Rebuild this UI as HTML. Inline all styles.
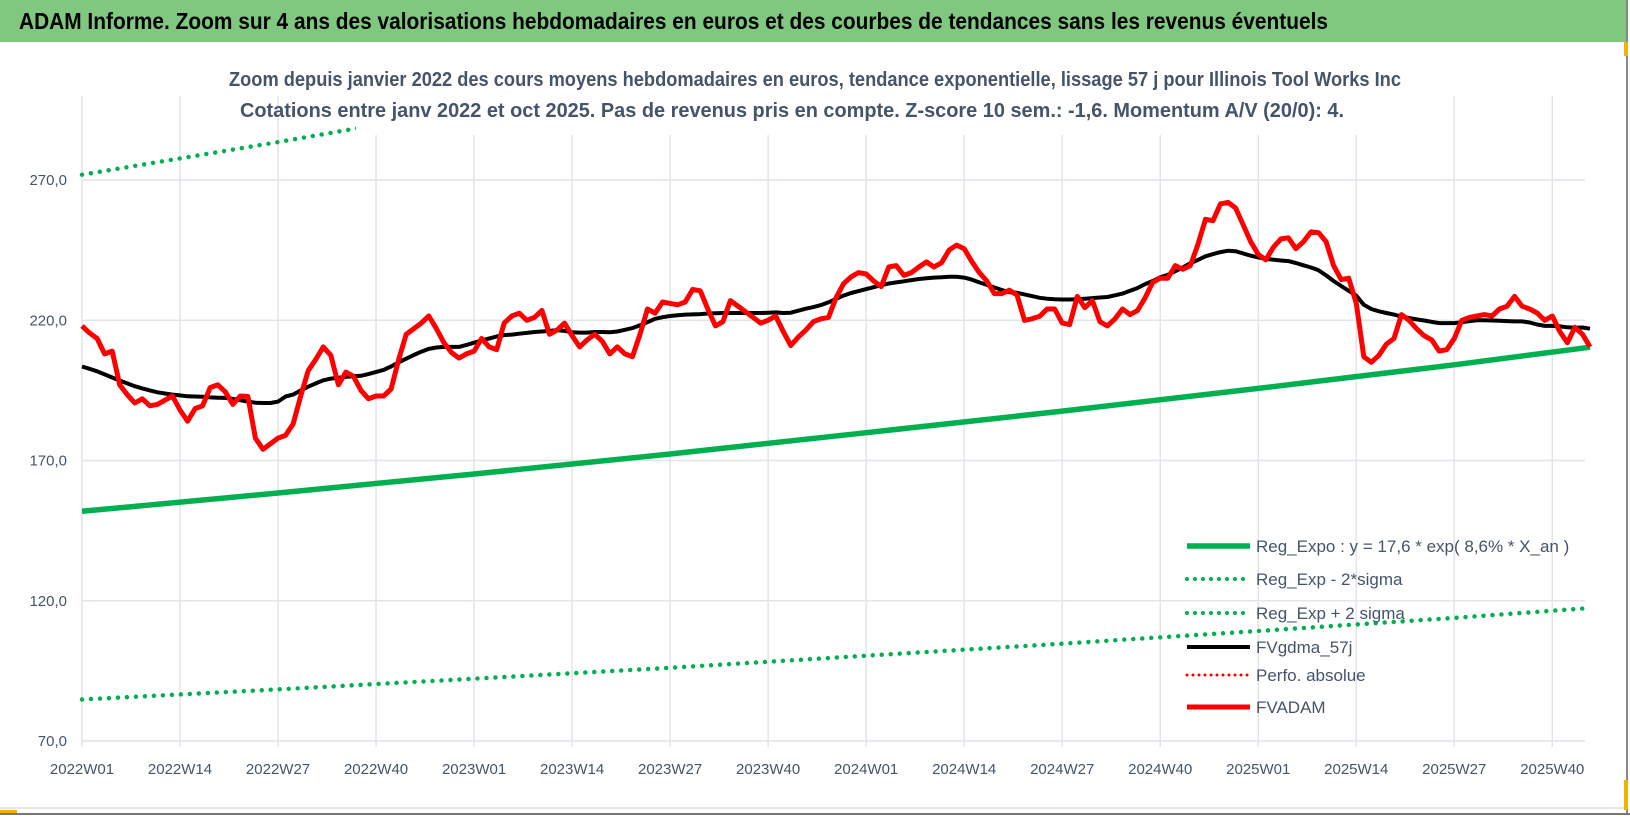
<!DOCTYPE html>
<html><head><meta charset="utf-8"><style>
body{margin:0;background:#fff;width:1630px;height:815px;overflow:hidden;font-family:"Liberation Sans",sans-serif}
</style></head><body>
<svg id="chart" width="1630" height="815" viewBox="0 0 1630 815" xmlns="http://www.w3.org/2000/svg">
<rect x="0" y="0" width="1630" height="815" fill="#fff"/>
<rect x="0" y="0" width="1628" height="42" fill="#80c880"/>
<text x="19" y="29" font-size="23" font-weight="bold" fill="#000" textLength="1309" lengthAdjust="spacingAndGlyphs">ADAM Informe. Zoom sur 4 ans des valorisations hebdomadaires en euros et des courbes de tendances sans les revenus éventuels</text>
<line x1="1627" y1="0" x2="1627" y2="815" stroke="#888" stroke-width="2"/>
<line x1="0" y1="808" x2="1627" y2="808" stroke="#ddd" stroke-width="1.5"/>
<line x1="0" y1="814" x2="1630" y2="814" stroke="#777" stroke-width="2"/>
<rect x="1624" y="42" width="4" height="14" fill="#f0b400"/>
<rect x="1624" y="780" width="4" height="30" fill="#f0b400"/>
<rect x="0" y="810" width="17" height="3" fill="#f0b400"/>
<g id="grid"></g>
<g id="series"></g>
<rect x="356" y="55" width="1050" height="80" fill="#fff"/>
<text x="815" y="86" font-size="20" font-weight="bold" fill="#44546a" text-anchor="middle" textLength="1172" lengthAdjust="spacingAndGlyphs">Zoom depuis janvier 2022 des cours moyens hebdomadaires en euros, tendance exponentielle, lissage 57 j pour Illinois Tool Works Inc</text>
<text x="792" y="117" font-size="20" font-weight="bold" fill="#44546a" text-anchor="middle" textLength="1104" lengthAdjust="spacingAndGlyphs">Cotations entre janv 2022 et oct 2025. Pas de revenus pris en compte. Z-score 10 sem.: -1,6.  Momentum A/V (20/0): 4.</text>
<g id="axes"></g>
<g id="legend"></g>
</svg>
<script>
const yTicks=[70,120,170,220,270];
const yTickLabels=["70,0","120,0","170,0","220,0","270,0"];
const xTickWeeks=[0,13,26,39,52,65,78,91,104,117,130,143,156,169,182,195];
const xTickLabels=["2022W01","2022W14","2022W27","2022W40","2023W01","2023W14","2023W27","2023W40","2024W01","2024W14","2024W27","2024W40","2025W01","2025W14","2025W27","2025W40"];
const redValues=[218,215.5,213.5,208,209,197,193.5,190.5,192,189.5,190,191.5,193,188,184,188.5,189.5,196,197,194.5,190,193,192.8,178,174,176,178,179,183,193,202,206,210.5,207.5,197,201.5,200,195,192,193,193,195.5,206,215,217,219,221.5,217,212,208.5,206.5,208,209,213.5,210.5,209.5,219,221.5,222.5,220,221,223.5,215,216.5,219,214.5,210.5,213,215,212.5,208,210.5,208,207,215,224,222.5,226.5,226,225.5,226.5,231,230.5,224,218,219.5,227,225,223,221,219,220,221.5,216,211,214,216.5,219.5,220.5,221,228,233,235.5,237,236.5,234,232,239,239.5,236,237,239,240.8,239,240.5,245,246.8,245.5,241,237,234,229.5,229.5,230.7,229,220,220.5,221.4,224,224,219,218.5,228.5,224.5,227,219.5,218,220.5,224,222,223.5,228,233.5,235,235,239.5,238.2,239.5,247,256,255.5,261.5,262,260,254,248,243.5,241.5,246,249,249.4,245.5,248,251.5,251.2,248,239.5,234.5,235,226,207,205,207.5,211.5,213.5,222,220,217,214.5,213,209,209.5,213.5,220,221,221.5,222,221.5,224,225,228.5,225,224,222.6,220,221.5,216,212,217.5,215,210.5];
const blackValues=[203.5,202.7,201.8,200.7,199.6,198.5,197.5,196.5,195.7,195,194.3,193.9,193.5,193.2,192.9,192.8,192.7,192.5,192.4,192.3,192,191.5,191,190.6,190.5,190.5,191,192.8,193.5,195,196.3,197.5,198.6,199.2,199.5,199.8,200,200.2,200.8,201.6,202.3,203.5,205,206.3,207.6,208.8,209.8,210.3,210.5,210.5,210.5,211.2,212,212.8,213.5,214.2,214.7,214.9,215.2,215.5,215.8,216,216.2,216.5,216.2,215.7,215.6,215.6,215.8,215.8,215.7,216,216.6,217.2,218.2,219.3,220.5,221.1,221.5,221.8,222,222.1,222.2,222.4,222.5,222.6,222.6,222.6,222.6,222.6,222.6,222.7,222.8,222.6,222.7,223.4,224.1,224.7,225.4,226.4,227.6,228.8,229.7,230.4,231.1,231.8,232.5,233.1,233.5,233.9,234.3,234.7,235,235.2,235.3,235.5,235.5,235.2,234.5,233.5,232.6,231.7,230.8,230,229.8,229.2,228.6,228,227.7,227.5,227.4,227.4,227.5,227.7,227.9,228.1,228.3,228.9,229.5,230.5,231.5,232.9,234,235.3,236.2,237.5,238.8,240.3,241.5,242.8,243.6,244.3,244.8,244.6,243.8,243,242.4,241.9,241.6,241.3,241.1,240.4,239.6,238.8,237.8,236,234,232.2,230.5,228.8,225.5,224,223.2,222.6,222,221.3,220.8,220.3,219.9,219.4,219,219,219,219.3,219.7,220,220,219.9,219.8,219.7,219.6,219.6,219.2,218.5,218,218,217.8,217.5,217.3,217.4,217];
const trendWeeks=[0,26,52,78,104,130,156,182,200];
const trendValues=[151.9,158.4,165.2,172.3,179.9,187.6,195.7,204.1,210.4];
const lowerValues=[84.8,88.4,92.2,96.1,100.4,104.7,109.2,113.9,117.4];
const upperValues=[271.9,283.5,295.7,308.4,321.9,335.8,350.3,365.4,376.6];
const legendLabels=["Reg_Expo : y = 17,6 * exp( 8,6% * X_an )","Reg_Exp - 2*sigma","Reg_Exp + 2 sigma","FVgdma_57j","Perfo. absolue","FVADAM"];

const NS="http://www.w3.org/2000/svg";
const X0=82,DX=7.54,YBASE=741,PPU=2.805,XEND=1585,YTOP=96;
function xs(w){return X0+w*DX;}
function ys(v){return YBASE-(v-70)*PPU;}
function mk(tag,attrs,parent){const e=document.createElementNS(NS,tag);for(const k in attrs)e.setAttribute(k,attrs[k]);parent.appendChild(e);return e;}
const grid=document.getElementById('grid'),axes=document.getElementById('axes'),series=document.getElementById('series'),legend=document.getElementById('legend');
yTicks.forEach((v,i)=>{
  const l=mk('line',{x1:X0,x2:XEND,y1:ys(v),y2:ys(v),stroke:'#e2e4ea','stroke-width':1.5},grid);
  
  
  const t=mk('text',{x:67,y:ys(v)+5,'font-size':15,fill:'#44546a','text-anchor':'end'},axes);
  t.textContent=yTickLabels[i];
  
  
});
xTickWeeks.forEach((w,i)=>{
  const l=mk('line',{x1:xs(w),x2:xs(w),y1:YTOP,y2:YBASE+6,stroke:'#e2e4ea','stroke-width':1.5},grid);
  
  
  const t=mk('text',{x:xs(w),y:774,'font-size':15,fill:'#44546a','text-anchor':'middle'},axes);
  t.textContent=xTickLabels[i];
  
  
});
const defs=mk('defs',{},series);
const cp=mk('clipPath',{id:'plotclip'},defs);
mk('rect',{x:X0-5,y:YTOP,width:XEND-X0+20,height:YBASE-YTOP+10},cp);
const g=mk('g',{'clip-path':'url(#plotclip)'},series);
function pts(ws,vs){return vs.map((v,i)=>xs(ws[i]).toFixed(1)+','+ys(v).toFixed(1)).join(' ');}
const weeks=redValues.map((_,i)=>i);
const up=mk('polyline',{points:pts(trendWeeks,upperValues),fill:'none',stroke:'#00b050','stroke-width':4.5,'stroke-dasharray':'0 9','stroke-linecap':'round'},g);


const lo=mk('polyline',{points:pts(trendWeeks,lowerValues),fill:'none',stroke:'#00b050','stroke-width':4.5,'stroke-dasharray':'0 9','stroke-linecap':'round'},g);


const tr=mk('polyline',{points:pts(trendWeeks,trendValues),fill:'none',stroke:'#00b050','stroke-width':5.5},g);


const bl=mk('polyline',{points:pts(weeks,blackValues),fill:'none',stroke:'#000','stroke-width':4,'stroke-linejoin':'round'},g);


const rd=mk('polyline',{points:pts(weeks,redValues),fill:'none',stroke:'#ff0000','stroke-width':5,'stroke-linejoin':'round'},g);


const legY=[546,579,613,647,675,707];
const legStyle=[
 {stroke:'#00b050','stroke-width':5.5},
 {stroke:'#00b050','stroke-width':4,'stroke-dasharray':'0 8','stroke-linecap':'round'},
 {stroke:'#00b050','stroke-width':4,'stroke-dasharray':'0 8','stroke-linecap':'round'},
 {stroke:'#000','stroke-width':4},
 {stroke:'#ff0000','stroke-width':3,'stroke-dasharray':'0 6','stroke-linecap':'round'},
 {stroke:'#ff0000','stroke-width':5}];
legendLabels.forEach((s,i)=>{
  const a=Object.assign({x1:1187,x2:1250,y1:legY[i],y2:legY[i]},legStyle[i]);
  const l=mk('line',a,legend);
  
  
  const t=mk('text',{x:1256,y:legY[i]+6,'font-size':17,fill:'#44546a'},legend);
  t.textContent=s;
  
  
});
</script>
</body></html>
